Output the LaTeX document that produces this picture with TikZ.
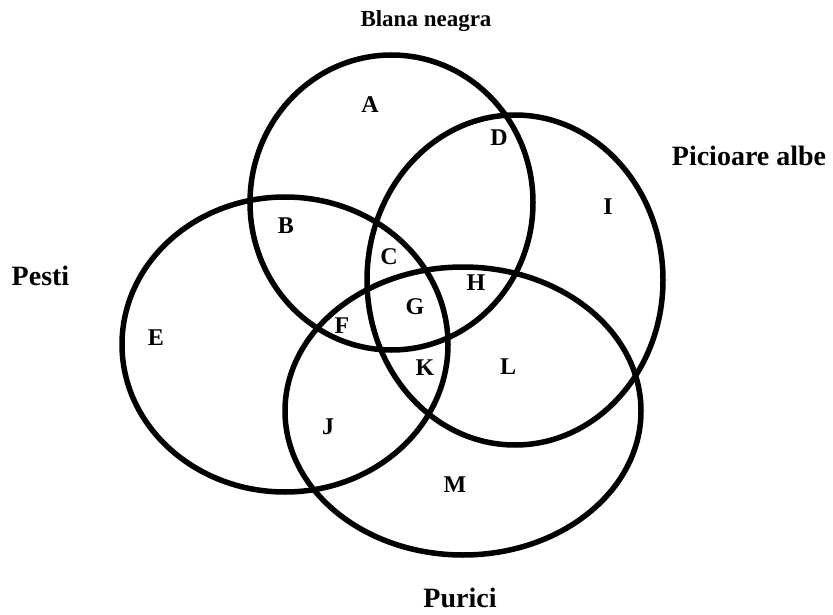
\documentclass[tikz,border=0pt]{standalone}
\usepackage{fontspec}
\setmainfont{Liberation Serif}
\begin{document}
\begin{tikzpicture}[x=1pt,y=-1pt,
  setring/.style={draw=black,line width=5.5pt},
  region/.style={inner sep=0pt,font=\fontsize{24}{26}\selectfont\bfseries},
  setname/.style={inner sep=0pt,anchor=base,font=\fontsize{28}{30}\selectfont\bfseries}]
\useasboundingbox (0,0) rectangle (833,615);
\draw[setring] (391.5,202.5) ellipse [x radius=141.5, y radius=147.5];
\draw[setring] (515,280) ellipse [x radius=148, y radius=165];
\draw[setring] (285,344.5) ellipse [x radius=163, y radius=147.5];
\draw[setring] (463,411) ellipse [x radius=178, y radius=144];
\node[setname,font=\fontsize{23}{25}\selectfont\bfseries] (blana) at (426,27) {Blana neagra};
\node[setname] (picioare) at (749,165) {Picioare albe};
\node[setname] (pesti) at (40.5,285) {Pesti};
\node[setname] (purici) at (460,607) {Purici};
\node[region] (A) at (370,105) {A};
\node[region] (D) at (499,138) {D};
\node[region] (B) at (286,226) {B};
\node[region] (C) at (389,257) {C};
\node[region] (H) at (476,283) {H};
\node[region] (G) at (415,307) {G};
\node[region] (F) at (342,326) {F};
\node[region] (E) at (156,338) {E};
\node[region] (J) at (328,427) {J};
\node[region] (K) at (425,368) {K};
\node[region] (I) at (608,207) {I};
\node[region] (L) at (508,367) {L};
\node[region] (M) at (455,485) {M};
\end{tikzpicture}
\end{document}
